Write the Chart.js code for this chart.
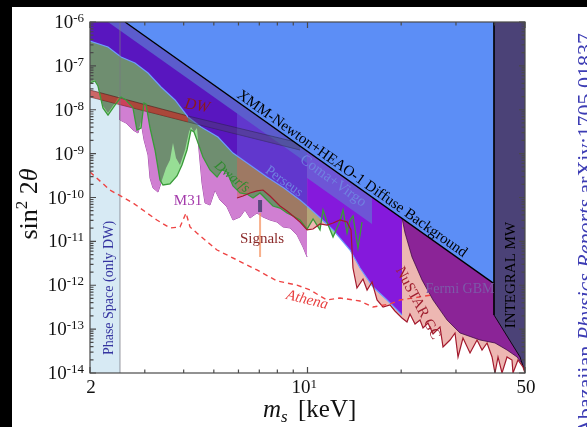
<!DOCTYPE html>
<html>
<head>
<meta charset="utf-8">
<script src="https://cdn.jsdelivr.net/npm/chart.js@4.4.1/dist/chart.umd.min.js"></script>
<style>
  html, body { margin: 0; padding: 0; background: #000; overflow: hidden; }
  #paper { position: absolute; left: 12px; top: 7px; width: 575px; height: 420px; background: #fff; }
  #chart { position: absolute; left: 0; top: 0; }
</style>
</head>
<body>
<div id="paper"></div>
<canvas id="chart" width="587" height="427"></canvas>
<script>
// sterile neutrino limits: m_s [keV] vs sin^2(2 theta)

const phaseMass = [2.0, 2.497];
const phaseMix = [1e-6, 1e-6];

const m31Mass = [2.0, 2.075, 2.122, 2.201, 2.285, 2.406, 2.479, 2.496, 2.61, 2.749, 2.853, 2.917, 2.983, 3.073, 3.118, 3.188, 3.308, 3.407, 3.51, 3.615, 3.696, 3.779, 3.892, 4.039, 4.16, 4.223, 4.318, 4.414, 4.48, 4.581, 4.684, 4.861, 5.044, 5.234, 5.512, 5.762, 6.069, 6.297, 6.535, 6.883, 7.195, 7.577, 7.978, 8.34, 8.787, 9.256, 9.676, 9.97];
const m31Mix = [4.29e-8, 4.77e-8, 3.66e-8, 1.22e-8, 8.43e-9, 1.43e-8, 2.06e-8, 5.84e-9, 4.99e-9, 3.45e-9, 2.95e-9, 5.26e-9, 2.05e-9, 9.3e-10, 2.78e-10, 1.65e-10, 1.33e-10, 2.51e-10, 4.7e-10, 7.16e-10, 1.75e-9, 7.95e-10, 5.51e-10, 1.21e-9, 3.11e-9, 4.05e-9, 3.11e-9, 3.84e-9, 1.21e-9, 2.14e-10, 7.5e-11, 6.75e-11, 1.48e-10, 8.77e-11, 6.07e-11, 3.07e-11, 3.59e-11, 5.19e-11, 3.41e-11, 4.43e-11, 3.59e-11, 3.07e-11, 2.76e-11, 2.13e-11, 2.02e-11, 1.4e-11, 7.44e-12, 4.4e-12];

const dwarfMass = [2.0, 2.075, 2.122, 2.201, 2.285, 2.406, 2.516, 2.61, 2.749, 2.831, 2.917, 2.983, 3.027, 3.118, 3.236, 3.357, 3.433, 3.615, 3.807, 3.95, 4.099, 4.223, 4.318, 4.414, 4.615, 4.861, 5.12, 5.312, 5.512, 5.762, 6.069, 6.391, 6.682, 7.037, 7.411, 7.743, 8.157, 8.594, 8.984, 9.463, 9.97, 10.42, 10.97, 11.22, 11.55, 12.08, 12.72, 13.01, 13.4, 13.7, 14.0, 14.53, 14.97];
const dwarfMix = [4.07e-8, 4.52e-8, 3.48e-8, 1.1e-8, 7.59e-9, 1.28e-8, 1.95e-8, 1.67e-8, 1.1e-8, 3.45e-9, 3.84e-9, 1.43e-8, 1.35e-8, 3.84e-9, 1.21e-9, 2.51e-10, 1.93e-10, 2.03e-10, 3.09e-10, 5.51e-10, 1.21e-9, 3.45e-9, 3.11e-9, 2.05e-9, 8.38e-10, 4.24e-10, 2.93e-10, 4.24e-10, 3.81e-10, 1.83e-10, 1.27e-10, 1.2e-10, 9.75e-11, 1.27e-10, 8.77e-11, 6.4e-11, 5.76e-11, 4.43e-11, 3.79e-11, 3.07e-11, 1.91e-11, 3.24e-11, 1.82e-11, 5.19e-11, 2.76e-11, 1.26e-11, 2.91e-11, 5.19e-11, 1.55e-11, 3.07e-11, 3.79e-11, 7.06e-12, 2.76e-11];

const nustarMass = [5.936, 6.205, 6.535, 6.883, 7.195, 7.577, 8.157, 8.594, 8.984, 9.463, 9.97, 10.42, 10.97, 11.55, 12.08, 12.72, 13.4, 13.8, 14.0, 14.42, 15.08, 15.54, 16.12, 16.73, 17.49, 18.41, 19.1, 20.12, 20.88, 21.35, 22.16, 22.99, 23.51, 24.39, 25.32, 26.66, 27.26, 28.71, 29.79, 30.46, 31.6, 33.29, 35.06, 36.38, 37.76, 39.18, 40.04, 40.95, 42.18, 43.77, 45.41, 45.75, 47.47, 49.26, 50];
const nustarMix = [9.75e-11, 1.08e-10, 1.27e-10, 1.41e-10, 1.48e-10, 1.08e-10, 6.4e-11, 4.92e-11, 3.79e-11, 2.76e-11, 1.82e-11, 1.91e-11, 2.49e-11, 2.36e-11, 2.62e-11, 3.07e-11, 2.76e-11, 1.82e-11, 2.47e-12, 8.65e-13, 1.39e-12, 7.79e-13, 1.19e-12, 4.61e-13, 3.19e-13, 3.55e-13, 2.59e-13, 1.79e-13, 1.45e-13, 2.21e-13, 1.31e-13, 1.61e-13, 1.06e-13, 1.38e-13, 7.74e-14, 1.12e-13, 3.91e-14, 5.65e-14, 8.16e-14, 2.32e-14, 6.28e-14, 2.86e-14, 5.65e-14, 3.34e-14, 4.83e-14, 2.32e-14, 1e-14, 2.32e-14, 1e-14, 2.32e-14, 1.98e-14, 1e-14, 1.98e-14, 1.37e-14, 1e-14];

// DW band (red part, then its grey continuation)
const dwMass = [2.0, 4.13];
const dwUpper = [2.82e-8, 7.21e-9];
const dwLower = [1.95e-8, 5.26e-9];
const dwTailMass = [4.13, 9.463];
const dwTailUpper = [7.21e-9, 1.75e-9];
const dwTailLower = [5.26e-9, 1.21e-9];

// lower edge of the stacked X-ray limits
const stackMass = [2.0, 2.285, 2.516, 2.79, 3.073, 3.382, 3.752, 4.13, 4.548, 5.157, 5.762, 6.535, 7.411, 8.404, 9.463, 9.97];
const stackMix = [3.69e-7, 2.69e-7, 1.59e-7, 1.16e-7, 6.88e-8, 3.3e-8, 1.67e-8, 6.84e-9, 4.04e-9, 2.39e-9, 1.03e-9, 5.51e-10, 2.93e-10, 1.65e-10, 8.77e-11, 6.4e-11];
const violetMass = [9.97, 10.73, 12.08, 13.7, 14.75, 16.24, 18.01, 20.12];
const violetMix = [6.4e-11, 3.99e-11, 1.82e-11, 6.35e-12, 2.47e-12, 9.1e-13, 4.61e-13, 2.1e-13];
const perseusMass = [5.936, 6.535, 7.411, 8.404, 9.463, 9.97];
const perseusMix = [8.91e-10, 5.51e-10, 2.93e-10, 1.65e-10, 8.77e-11, 6.4e-11];
const stripMass = [2.285, 9.97];
const stripMix = [1e-6, 6.08e-10];
const comaMass = [9.97, 16.12];
const comaMix = [2.78e-10, 2.49e-11];

const fermiMass = [20.12, 20.58, 21.67, 23.33, 25.32, 28.09, 30.91, 35.85, 40.04, 43.77, 47.14, 50];
const fermiMix = [3.41e-11, 1.55e-11, 4.4e-12, 1.32e-12, 4.61e-13, 1.61e-13, 8.16e-14, 5.65e-14, 4.83e-14, 3.34e-14, 2.32e-14, 1.3e-14];

const xmmMass = [2.592, 39.75];
const xmmMix = [1e-6, 1.09e-12];

const integralMass = [39.75, 39.75, 48.2, 50];
const integralMix = [1e-6, 2.1e-13, 2.32e-14, 1.05e-14];

const athenaMass = [2.0, 2.319, 2.75, 3.28, 3.615, 3.893, 4.07, 4.192, 4.41, 5.12, 5.94, 6.88, 7.98, 9.25, 10.19, 11.55, 12.72, 14.75, 16.24, 18.41, 19.83, 25.1];
const athenaMix = [3.81e-10, 1.48e-10, 7.5e-11, 3.07e-11, 2.02e-11, 2.13e-11, 4.43e-11, 2.13e-11, 1.55e-11, 6.35e-12, 3.76e-12, 2.23e-12, 1.25e-12, 1.01e-12, 7.8e-13, 4.61e-13, 5.12e-13, 4.37e-13, 3.19e-13, 3.74e-13, 4.61e-13, 6.0e-13];

const signalMass = [7.04, 7.04];
const signalMix = [4.43e-11, 4.4e-12];
const signalCore = [8.8e-11, 4.7e-11];

const phaseEdge = [1e-14, 1e-6];

// axis ticks
const yTickExps = [-6, -7, -8, -9, -10, -11, -12, -13, -14];
const xTickValues = [2, 10, 50];
const xTickText = ['2', '10', '50'];
const xTickPower = ['', '1', ''];
const xMinorTicks = [3, 4, 5, 6, 7, 8, 9, 20, 30, 40];

const SERIF = '"Liberation Serif", "DejaVu Serif", serif';

function pts(xs, ys) {
    return xs.map((x, i) => ({ x: x, y: ys[i] }));
}

function area(xs, ys, color, extra) {
    return Object.assign({
        data: pts(xs, ys),
        backgroundColor: color,
        borderColor: 'rgba(0,0,0,0)',
        borderWidth: 0,
        pointRadius: 0,
        fill: 'end',
    }, extra || {});
}

function curve(xs, ys, color, width, extra) {
    return Object.assign({
        data: pts(xs, ys),
        borderColor: color,
        borderWidth: width,
        pointRadius: 0,
        fill: false,
    }, extra || {});
}

const layers = [
    area(dwarfMass, dwarfMix, '#97de95'),
    area(m31Mass, m31Mix, '#6f8e70', { blend: 'source-atop' }),
    area(m31Mass, m31Mix, '#d07fd2', { blend: 'destination-over', borderColor: '#a04aa6', borderWidth: 1 }),
    area(nustarMass, nustarMix, 'rgba(215,95,85,0.45)'),
    curve(dwMass, dwLower, 'rgba(70,20,20,0.7)', 0.8),
    curve(dwMass, dwUpper, 'rgba(70,20,20,0.7)', 0.8, { fill: '-1', backgroundColor: 'rgba(200,35,30,0.66)' }),
    area(phaseMass, phaseMix, '#d7eaf4', { fill: 'start', blend: 'destination-over' }),
    area(stackMass, stackMix, '#5916bf', { borderColor: '#6d9cff', borderWidth: 1.2 }),
    area(violetMass, violetMix, '#8519dc', { borderColor: '#6d9cff', borderWidth: 1.2 }),
    area(perseusMass, perseusMix, 'rgba(115,125,235,0.33)'),
    area(stripMass, stripMix, '#5b5ccd'),
    area(comaMass, comaMix, 'rgba(95,125,210,0.6)'),
    curve(dwTailMass, dwTailLower, 'rgba(30,30,50,0.5)', 0.8),
    curve(dwTailMass, dwTailUpper, 'rgba(30,30,50,0.5)', 0.8, { fill: '-1', backgroundColor: 'rgba(70,70,95,0.4)' }),
    area(fermiMass, fermiMix, '#8b2497', { borderColor: 'rgba(50,0,60,0.7)', borderWidth: 1 }),
    area(xmmMass, xmmMix, '#5c8ef6', { borderColor: '#000', borderWidth: 1.3 }),
    area(integralMass, integralMix, '#4b4277', { borderColor: 'rgba(0,0,0,0.85)', borderWidth: 1 }),
    curve([2.497, 2.497], phaseEdge, 'rgba(120,120,130,0.75)', 1),
    curve(dwarfMass, dwarfMix, '#3a9a3a', 1.3),
    curve(nustarMass, nustarMix, '#a3192d', 1.2),
    curve(athenaMass, athenaMix, '#ee4444', 1.4, { borderDash: [5, 4] }),
    curve(signalMass, signalMix, 'rgba(245,150,100,0.75)', 2),
    curve(signalMass, signalCore, 'rgba(40,50,90,0.7)', 4),
];
layers.forEach((d, i) => { d.order = layers.length - i; });

const notes = [
    { t: 'XMM-Newton+HEAO-1 Diffuse Background', m: 13.9, s: 3.44e-10, rot: 35.3, font: '15px ' + SERIF, color: '#000' },
    { t: 'Dwarfs', m: 5.72, s: 2.93e-10, rot: 40, font: 'italic 14px ' + SERIF, color: '#2f8a2f' },
    { t: 'Perseus', m: 8.4, s: 2.3e-10, rot: 36, font: '14px ' + SERIF, color: '#7082e0' },
    { t: 'Coma+Virgo', m: 12.08, s: 2.38e-10, rot: 36, font: '15px ' + SERIF, color: '#7082e0' },
    { t: 'DW', m: 4.414, s: 1.22e-8, rot: 10, font: 'italic 16px ' + SERIF, color: '#8b1a1a' },
    { t: 'M31', m: 4.13, s: 8.32e-11, rot: 0, font: '15px ' + SERIF, color: '#a43aab' },
    { t: 'Signals', m: 7.14, s: 1.13e-11, rot: 0, font: '15px ' + SERIF, color: '#8b2a2a' },
    { t: 'Athena', m: 9.97, s: 4.61e-13, rot: 14, font: 'italic 15px ' + SERIF, color: '#e84040' },
    { t: 'NuSTAR GC', m: 22.6, s: 3.9e-13, rot: 62, font: '15px ' + SERIF, color: '#a02030' },
    { t: 'Fermi GBM', m: 30.91, s: 8.22e-13, rot: 0, font: '14px ' + SERIF, color: '#7d5aa8' },
    { t: 'INTEGRAL MW', m: 45.1, s: 1.71e-12, rot: -90, font: '15px ' + SERIF, color: '#000' },
    { t: 'Phase Space (only DW)', m: 2.3, s: 8.65e-13, rot: -90, font: '14px ' + SERIF, color: '#3535a0' },
];

// composite mode for the next dataset is set right after the previous one is drawn,
// so the filler (which runs first in beforeDatasetDraw) picks it up
const blendPlugin = {
    id: 'blend',
    beforeDatasetsDraw(chart) {
        chart.ctx.globalCompositeOperation = chart.data.datasets[0].blend || 'source-over';
    },
    afterDatasetDraw(chart, args) {
        const next = chart.data.datasets[args.index + 1];
        chart.ctx.globalCompositeOperation = (next && next.blend) || 'source-over';
    },
    afterDatasetsDraw(chart) {
        chart.ctx.globalCompositeOperation = 'source-over';
    },
};

function runs(ctx, pieces, x0, y0) {
    // pieces: [text, font, dy]
    let x = x0;
    for (const [txt, font, dy] of pieces) {
        ctx.font = font;
        ctx.fillText(txt, x, y0 + dy);
        x += ctx.measureText(txt).width;
    }
    return x - x0;
}

function widthOf(ctx, pieces) {
    let w = 0;
    for (const [txt, font] of pieces) { ctx.font = font; w += ctx.measureText(txt).width; }
    return w;
}

const framePlugin = {
    id: 'frame',
    afterDraw(chart) {
        const { ctx, chartArea: a, scales: { x, y } } = chart;
        ctx.save();

        // in-plot labels
        ctx.textAlign = 'center';
        ctx.textBaseline = 'middle';
        for (const n of notes) {
            ctx.save();
            ctx.translate(x.getPixelForValue(n.m), y.getPixelForValue(n.s));
            ctx.rotate(n.rot * Math.PI / 180);
            ctx.font = n.font;
            ctx.fillStyle = n.color;
            ctx.fillText(n.t, 0, 0);
            ctx.restore();
        }

        // frame and inward ticks
        ctx.strokeStyle = '#4a4a4a';
        ctx.lineWidth = 1.2;
        ctx.strokeRect(a.left, a.top, a.width, a.height);
        ctx.beginPath();
        const tickY = (py, len) => {
            ctx.moveTo(a.left, py); ctx.lineTo(a.left + len, py);
            ctx.moveTo(a.right, py); ctx.lineTo(a.right - len, py);
        };
        const tickX = (px, len) => {
            ctx.moveTo(px, a.bottom); ctx.lineTo(px, a.bottom - len);
            ctx.moveTo(px, a.top); ctx.lineTo(px, a.top + len);
        };
        for (const e of yTickExps) {
            tickY(y.getPixelForValue(Math.pow(10, e)), 6);
            if (e > -6) continue;
            for (let k = 2; k <= 9; k++) {
                const v = k * Math.pow(10, e);
                if (v < 1e-6) tickY(y.getPixelForValue(v), 3.5);
            }
        }
        xTickValues.forEach(v => tickX(x.getPixelForValue(v), 6));
        xMinorTicks.forEach(v => tickX(x.getPixelForValue(v), 3.5));
        ctx.stroke();

        // tick labels
        ctx.fillStyle = '#111';
        ctx.textBaseline = 'alphabetic';
        const big = '19px ' + SERIF, small = '13px ' + SERIF;
        for (const e of yTickExps) {
            const py = y.getPixelForValue(Math.pow(10, e));
            ctx.font = small;
            const we = ctx.measureText(String(e)).width;
            ctx.textAlign = 'left';
            ctx.fillText(String(e), a.left - 6 - we, py);
            ctx.font = big;
            ctx.textAlign = 'right';
            ctx.fillText('10', a.left - 6 - we, py + 6);
        }
        xTickValues.forEach((v, i) => {
            const px = x.getPixelForValue(v);
            ctx.font = big;
            if (xTickPower[i]) {
                ctx.textAlign = 'right';
                ctx.fillText(xTickText[i], px + 3, a.bottom + 20);
                ctx.font = small;
                ctx.textAlign = 'left';
                ctx.fillText(xTickPower[i], px + 3, a.bottom + 15);
            } else {
                ctx.textAlign = 'center';
                ctx.fillText(xTickText[i], px + 1, a.bottom + 20);
            }
        });

        // axis titles
        ctx.textAlign = 'left';
        ctx.fillStyle = '#111';
        runs(ctx, [['m', 'italic 25px ' + SERIF, 0], ['s', 'italic 17px ' + SERIF, 5]], 263, 417);
        runs(ctx, [['[keV]', '25px ' + SERIF, 0]], 298, 417);

        const yTitle = [['sin', '26px ' + SERIF, 0], ['2', '17px ' + SERIF, -10], [' 2', '26px ' + SERIF, 0], ['\u03b8', 'italic 26px ' + SERIF, 0]];
        const wy = widthOf(ctx, yTitle);
        ctx.save();
        ctx.translate(37, 204 + wy / 2);
        ctx.rotate(-Math.PI / 2);
        runs(ctx, yTitle, 0, 0);
        ctx.restore();

        // side credit
        const credit = [['Abazajian ', '22px ' + SERIF, 0], ['Physics Reports', 'italic 22px ' + SERIF, 0], [' arXiv:1705.01837', '22px ' + SERIF, 0]];
        const wc = widthOf(ctx, credit);
        ctx.fillStyle = '#3c3cb4';
        ctx.save();
        ctx.translate(592, 33 + wc);
        ctx.rotate(-Math.PI / 2);
        runs(ctx, credit, 0, 0);
        ctx.restore();

        ctx.restore();
    },
};

new Chart(document.getElementById('chart'), {
    type: 'line',
    data: { datasets: layers },
    options: {
        responsive: false,
        animation: false,
        devicePixelRatio: 1,
        layout: { padding: { left: 90, top: 22, right: 62, bottom: 54 } },
        scales: {
            x: { type: 'logarithmic', min: 2, max: 50, display: false },
            y: { type: 'logarithmic', min: 1e-14, max: 1e-6, display: false },
        },
        elements: { line: { tension: 0 }, point: { radius: 0 } },
        plugins: {
            legend: { display: false },
            tooltip: { enabled: false },
        },
    },
    plugins: [blendPlugin, framePlugin],
});
</script>
</body>
</html>
